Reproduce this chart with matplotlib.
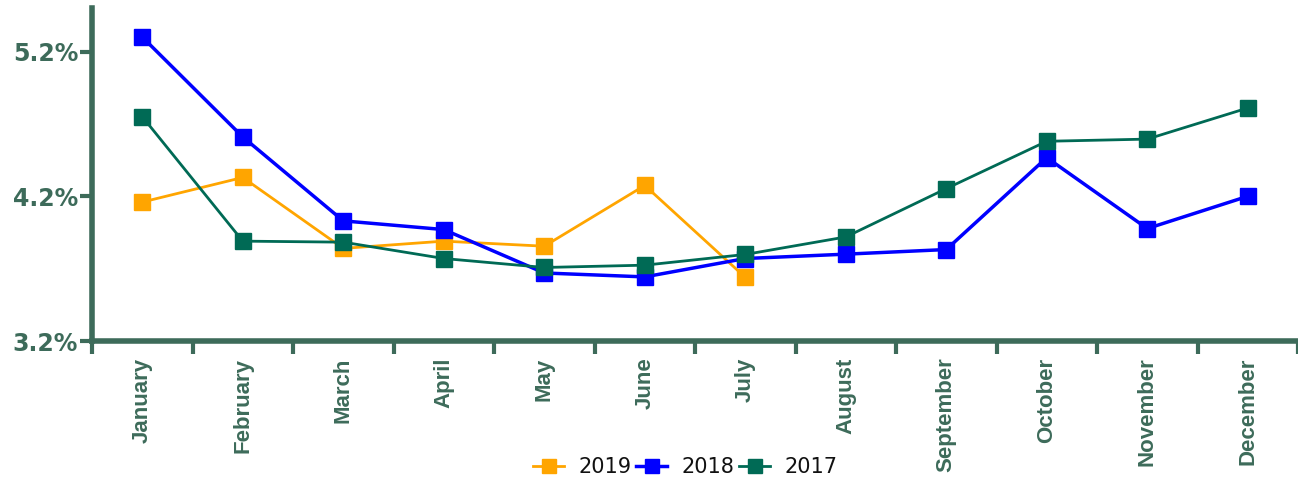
import matplotlib
matplotlib.use("Agg")
import matplotlib.pyplot as plt
from matplotlib.ticker import FuncFormatter

months = ['January', 'February', 'March', 'April', 'May', 'June', 'July',
          'August', 'September', 'October', 'November', 'December']
rate_2019 = [4.16, 4.33, 3.84, 3.89, 3.855, 4.275, 3.64]
rate_2018 = [5.30, 4.61, 4.03, 3.97, 3.67, 3.643, 3.77, 3.80, 3.832, 4.467, 3.977, 4.20]
rate_2017 = [4.75, 3.89, 3.883, 3.77, 3.708, 3.724, 3.798, 3.919, 4.253, 4.58, 4.595, 4.81]
y_ticks = [3.2, 4.2, 5.2]

axis_color = '#3d6b5a'

fig = plt.figure(figsize=(12.98, 4.78), dpi=100)
ax = fig.add_axes([0.0709, 0.2866, 0.9291, 0.6964])

ax.plot(range(len(rate_2019)), rate_2019, color='#ffa500', marker='s', markersize=11.5,
        linewidth=2, label='2019', zorder=3)
ax.plot(range(len(rate_2018)), rate_2018, color='#0000ff', marker='s', markersize=11.5,
        linewidth=2.5, label='2018', zorder=4)
ax.plot(range(len(rate_2017)), rate_2017, color='#006a55', marker='s', markersize=11.5,
        linewidth=2, label='2017', zorder=5)

ax.set_xlim(-0.5, 11.5)
ax.set_ylim(3.2, 5.5)
ax.set_yticks(y_ticks)
ax.yaxis.set_major_formatter(FuncFormatter(lambda v, p: '%.1f%%' % v))
ax.set_xticks(range(12))
ax.set_xticklabels(months, rotation=90, fontsize=16, fontweight='bold',
                   family='Liberation Sans', color=axis_color)
ax.set_xticks([i - 0.5 for i in range(13)], minor=True)
ax.tick_params(axis='x', which='major', length=0, pad=12)
ax.tick_params(axis='x', which='minor', length=9, width=3, color=axis_color)
ax.tick_params(axis='y', length=9, width=3, color=axis_color, pad=1)
for lbl in ax.get_yticklabels():
    lbl.set_fontsize(17)
    lbl.set_fontweight('bold')
    lbl.set_color(axis_color)

for side in ['top', 'right']:
    ax.spines[side].set_visible(False)
for side in ['left', 'bottom']:
    ax.spines[side].set_color(axis_color)
    ax.spines[side].set_linewidth(4)

leg = ax.legend(loc='center', bbox_to_anchor=(0.492, -0.378), ncol=3, frameon=False,
                fontsize=15, handlelength=1.5, handletextpad=0.7, columnspacing=0.2,
                markerscale=0.9, borderpad=0)
for t in leg.get_texts():
    t.set_color('#111111')

fig.savefig('out.png', dpi=100)
